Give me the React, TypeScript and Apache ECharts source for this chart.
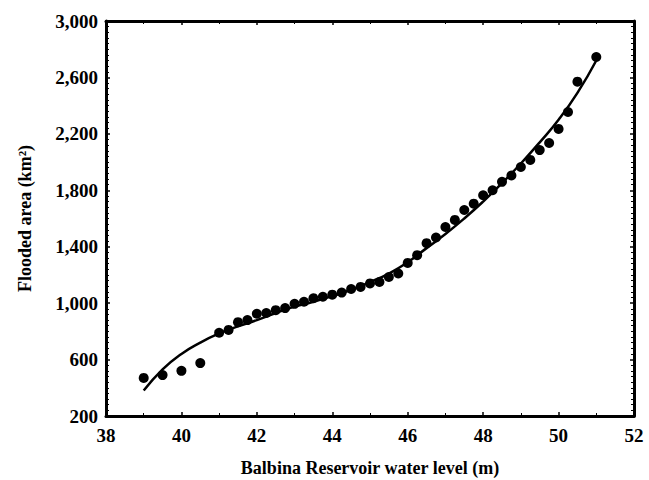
import React, { useEffect, useRef } from "react";
import * as echarts from "echarts";

const waterLevel = [39, 39.5, 40, 40.5, 41, 41.25, 41.5, 41.75, 42, 42.25, 42.5, 42.75, 43, 43.25, 43.5, 43.75, 44, 44.25, 44.5, 44.75, 45, 45.25, 45.5, 45.75, 46, 46.25, 46.5, 46.75, 47, 47.25, 47.5, 47.75, 48, 48.25, 48.5, 48.75, 49, 49.25, 49.5, 49.75, 50, 50.25, 50.5, 51];
const floodedArea = [470, 490, 520, 575, 790, 810, 865, 880, 925, 930, 950, 965, 995, 1010, 1035, 1045, 1060, 1075, 1100, 1115, 1140, 1150, 1185, 1210, 1285, 1340, 1425, 1465, 1540, 1590, 1660, 1705, 1765, 1800, 1860, 1905, 1965, 2015, 2085, 2135, 2235, 2355, 2570, 2745];

const fitLevel = [39, 39.5, 40, 40.5, 41, 41.5, 42, 42.5, 43, 43.5, 44, 44.5, 45, 45.5, 46, 46.5, 47, 47.5, 48, 48.5, 49, 49.5, 50, 50.5, 51];
const fitArea = [380, 530, 640, 720, 785, 835, 880, 930, 975, 1010, 1050, 1095, 1150, 1210, 1290, 1390, 1490, 1600, 1720, 1850, 1990, 2140, 2300, 2490, 2720];

const FONT = "Times New Roman, Liberation Serif, serif";

export default function App() {
  const ref = useRef<HTMLDivElement>(null);
  useEffect(() => {
    if (!ref.current) return;
    const chart = echarts.init(ref.current, null, { renderer: "svg" });
    const axisLine = { show: true, lineStyle: { color: "#000", width: 3 } };
    const tick = { show: true, inside: true, length: 4, lineStyle: { color: "#000", width: 1.5 } };
    const xMinor = { show: true, splitNumber: 2, length: 3, lineStyle: { color: "#000", width: 1 } };
    const yMinor = { show: true, splitNumber: 10, length: 3, lineStyle: { color: "#000", width: 1 } };
    const labelStyle = { fontFamily: FONT, fontWeight: "bold", fontSize: 19, color: "#000" };
    const titleStyle = { fontFamily: FONT, fontWeight: "bold", fontSize: 18, color: "#000" };
    const xBase = { type: "value", min: 38, max: 52, interval: 2, axisLine, splitLine: { show: false } };
    const yBase = { type: "value", min: 200, max: 3000, interval: 400, axisLine, splitLine: { show: false } };
    chart.setOption({
      animation: false,
      backgroundColor: "#fff",
      grid: { left: 106, right: 15, top: 21, bottom: 64, containLabel: false, outerBoundsMode: "none" },
      xAxis: [
        {
          ...xBase,
          position: "bottom",
          name: "Balbina Reservoir water level (m)",
          nameLocation: "middle",
          nameGap: 43,
          nameTextStyle: titleStyle,
          axisTick: tick,
          minorTick: xMinor,
          axisLabel: { ...labelStyle, margin: 10 },
        },
        {
          ...xBase,
          position: "top",
          axisTick: tick,
          minorTick: xMinor,
          axisLabel: { show: false },
        },
      ],
      yAxis: [
        {
          ...yBase,
          position: "left",
          name: "Flooded area (km²)",
          nameLocation: "middle",
          nameGap: 72,
          nameTextStyle: titleStyle,
          axisTick: tick,
          minorTick: yMinor,
          axisLabel: {
            ...labelStyle,
            margin: 8,
            formatter: (v: number) => v.toLocaleString("en-US"),
          },
        },
        {
          ...yBase,
          position: "right",
          axisTick: tick,
          minorTick: yMinor,
          axisLabel: { show: false },
        },
      ],
      series: [
        {
          type: "line",
          data: fitLevel.map((x, i) => [x, fitArea[i]]),
          smooth: true,
          showSymbol: false,
          lineStyle: { color: "#000", width: 2.5 },
          z: 2,
        },
        {
          type: "scatter",
          data: waterLevel.map((x, i) => [x, floodedArea[i]]),
          symbol: "circle",
          symbolSize: 10,
          itemStyle: { color: "#000", opacity: 1 },
          z: 3,
        },
      ],
    });
    return () => chart.dispose();
  }, []);
  return (
    <div
      ref={ref}
      style={{ position: "absolute", left: 0, top: 0, width: 649, height: 480 }}
    />
  );
}
